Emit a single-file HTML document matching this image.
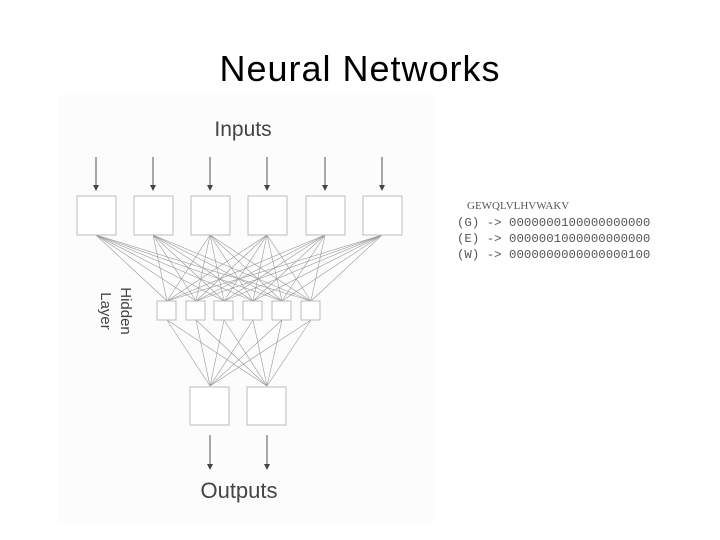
<!DOCTYPE html>
<html><head><style>
html,body{margin:0;padding:0;background:#fff;width:720px;height:540px;overflow:hidden}
svg{display:block}
</style></head><body>
<svg width="720" height="540" xmlns="http://www.w3.org/2000/svg">
<rect x="58" y="95" width="375" height="428" fill="#fcfcfc"/>
<text x="360" y="81" font-family="Liberation Sans, sans-serif" font-size="36" letter-spacing="1" text-anchor="middle" fill="#000">Neural Networks</text>
<text x="243" y="136" font-family="Liberation Sans, sans-serif" font-size="21" text-anchor="middle" fill="#444">Inputs</text>
<text x="239" y="498" font-family="Liberation Sans, sans-serif" font-size="22" text-anchor="middle" fill="#444">Outputs</text>
<text transform="translate(121,311) rotate(90)" font-family="Liberation Sans, sans-serif" font-size="15" text-anchor="middle" fill="#444"><tspan x="0" dy="0">Hidden</tspan><tspan x="0" dy="20">Layer</tspan></text>
<g stroke="#999" stroke-width="0.6" fill="none" id="conn"></g>
<g id="shapes" fill="#fff" stroke="#bbb" stroke-width="1"></g>
<g font-family="Liberation Mono, monospace" fill="#555">
<text x="467" y="209" font-family="Liberation Serif, serif" font-size="11">GEWQLVLHVWAKV</text>
<text x="457" y="226" font-size="12.4">(G) -&gt; 0000000100000000000</text>
<text x="457" y="242" font-size="12.4">(E) -&gt; 0000001000000000000</text>
<text x="457" y="258" font-size="12.4">(W) -&gt; 0000000000000000100</text>
</g>
</svg>
<script>
var ns="http://www.w3.org/2000/svg";
var conn=document.getElementById("conn"),sh=document.getElementById("shapes");
function el(p,t,a){var e=document.createElementNS(ns,t);for(var k in a)e.setAttribute(k,a[k]);p.appendChild(e);return e;}
var inX=[77,134,191,248,306,363],hX=[157,186,214,243,272,301],oX=[190,247];
inX.forEach(function(x){var cx=x+19;hX.forEach(function(h){el(conn,"line",{x1:cx,y1:235,x2:h+10,y2:301});});
 el(sh,"rect",{x:x,y:196,width:39,height:39});
 el(conn,"line",{x1:cx,y1:157,x2:cx,y2:185,stroke:"#555","stroke-width":1});
 el(sh,"polygon",{points:(cx-3)+",185 "+(cx+3)+",185 "+cx+",191",fill:"#444",stroke:"none"});});
hX.forEach(function(h){oX.forEach(function(o){el(conn,"line",{x1:h+10,y1:320,x2:o+20,y2:386});});
 el(sh,"rect",{x:h,y:301,width:19,height:19});});
oX.forEach(function(x){var cx=x+20;el(sh,"rect",{x:x,y:387,width:39,height:38});
 el(conn,"line",{x1:cx,y1:435,x2:cx,y2:464,stroke:"#555","stroke-width":1});
 el(sh,"polygon",{points:(cx-3)+",464 "+(cx+3)+",464 "+cx+",470",fill:"#444",stroke:"none"});});
</script>
</body></html>
